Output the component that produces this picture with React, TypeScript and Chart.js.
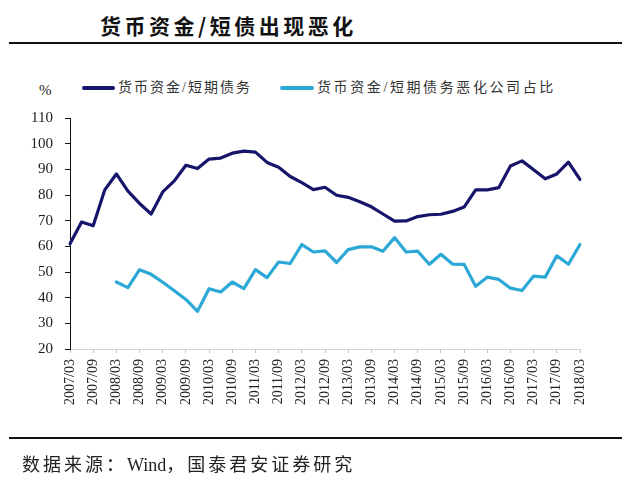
import React, { useEffect, useRef } from "react";
import { Chart, registerables } from "chart.js";

Chart.register(...registerables);

const categories: string[] = [
  "2007/03", "2007/06", "2007/09", "2007/12",
  "2008/03", "2008/06", "2008/09", "2008/12",
  "2009/03", "2009/06", "2009/09", "2009/12",
  "2010/03", "2010/06", "2010/09", "2010/12",
  "2011/03", "2011/06", "2011/09", "2011/12",
  "2012/03", "2012/06", "2012/09", "2012/12",
  "2013/03", "2013/06", "2013/09", "2013/12",
  "2014/03", "2014/06", "2014/09", "2014/12",
  "2015/03", "2015/06", "2015/09", "2015/12",
  "2016/03", "2016/06", "2016/09", "2016/12",
  "2017/03", "2017/06", "2017/09", "2017/12",
  "2018/03",
];

const cashToShortDebt: number[] = [
  61, 69.5, 68, 82,
  88.2, 81.5, 76.7, 72.6,
  81.2, 85.5, 91.6, 90.3,
  94, 94.4, 96.3, 97.1,
  96.7, 92.7, 90.8, 87.2,
  84.8, 82.1, 83, 79.9,
  79.1, 77.4, 75.4, 72.6,
  69.8, 69.9, 71.6, 72.3,
  72.5, 73.6, 75.3, 82,
  82, 82.9, 91.3, 93.3,
  89.8, 86.3, 88.2, 92.8,
  86.1,
];

const worseningShare: (number | null)[] = [
  null, null, null, null,
  46.1, 43.9, 50.9, 49.1,
  46, 42.7, 39.3, 34.7,
  43.5, 42.2, 46.1, 43.5,
  50.9, 47.8, 53.9, 53.3,
  60.7, 57.8, 58.2, 53.7,
  58.7, 59.8, 59.8, 58.1,
  63.4, 57.8, 58.1, 53,
  56.9, 53.1, 53, 44.4,
  48, 47.1, 43.7, 42.8,
  48.4, 48, 56.3, 53,
  60.7,
];

const seriesNames: string[] = ["货币资金/短期债务", "货币资金/短期债务恶化公司占比"];
const seriesColors: string[] = ["#16156b", "#2ba8d6"];

const yMin = 20;
const yMax = 110;
const yStep = 10;

const titleText = "货币资金/短债出现恶化";
const sourceParts: string[] = ["数据来源：", "Wind", "，国泰君安证券研究"];

const MIXED_FONT = "'Liberation Serif', 'Noto Sans CJK SC', serif";

export default function App() {
  const canvasRef = useRef<HTMLCanvasElement | null>(null);

  useEffect(() => {
    document.body.style.margin = "0";
    const canvas = canvasRef.current;
    if (!canvas) return;
    const chart = new Chart(canvas, {
      type: "line",
      data: {
        labels: categories,
        datasets: [
          {
            label: seriesNames[0],
            data: cashToShortDebt,
            borderColor: seriesColors[0],
            backgroundColor: seriesColors[0],
            borderWidth: 3.2,
            pointRadius: 0,
            tension: 0,
            borderJoinStyle: "round",
            borderCapStyle: "round",
          },
          {
            label: seriesNames[1],
            data: worseningShare,
            borderColor: seriesColors[1],
            backgroundColor: seriesColors[1],
            borderWidth: 3.2,
            pointRadius: 0,
            tension: 0,
            spanGaps: false,
            borderJoinStyle: "round",
            borderCapStyle: "round",
          },
        ],
      },
      options: {
        responsive: false,
        animation: false,
        devicePixelRatio: 1,
        layout: { padding: { left: 8, right: 57, top: 118, bottom: 81 } },
        plugins: {
          legend: { display: false },
          tooltip: { enabled: false },
          title: { display: false },
        },
        scales: {
          x: {
            type: "category",
            offset: false,
            afterFit: (s: any) => {
              s.height = 60;
            },
            border: { display: true, color: "#d4d4d4", width: 1 },
            grid: {
              display: true,
              drawOnChartArea: false,
              drawTicks: true,
              tickLength: 4,
              color: "#c4c4c4",
              offset: false,
            },
            ticks: {
              autoSkip: false,
              maxRotation: 90,
              minRotation: 90,
              padding: 6,
              color: "#222",
              font: { family: "'Liberation Serif', serif", size: 14 },
              callback: function (this: any, _v: any, index: number) {
                return index % 2 === 0 ? categories[index] : null;
              },
            },
          },
          y: {
            min: yMin,
            max: yMax,
            afterFit: (s: any) => {
              s.width = 62;
            },
            border: { display: true, color: "#111", width: 1 },
            grid: {
              display: true,
              drawOnChartArea: false,
              drawTicks: true,
              tickLength: 5,
              color: "#111",
            },
            ticks: {
              stepSize: yStep,
              padding: 12,
              color: "#222",
              font: { family: "'Liberation Serif', serif", size: 15 },
            },
          },
        },
      },
    });
    return () => chart.destroy();
  }, []);

  const legendItem = (i: number, left: number, lineW: number) => (
    <div
      key={i}
      style={{
        position: "absolute",
        left,
        top: 78,
        height: 20,
        display: "flex",
        alignItems: "center",
      }}
    >
      <div
        style={{
          width: lineW,
          height: 4,
          background: seriesColors[i],
          borderRadius: 2,
          marginRight: 3,
        }}
      />
      <span
        style={{
          fontFamily: MIXED_FONT,
          fontSize: 14,
          letterSpacing: i === 0 ? "2px" : "2.6px",
          color: "#333",
          whiteSpace: "nowrap",
          lineHeight: "20px",
        }}
      >
        {seriesNames[i]}
      </span>
    </div>
  );

  return (
    <div
      style={{
        position: "absolute",
        left: 0,
        top: 0,
        width: 637,
        height: 490,
        background: "#fff",
        overflow: "hidden",
      }}
    >
      <div
        style={{
          position: "absolute",
          left: 100,
          top: 10,
          fontFamily: "'Noto Sans CJK SC', sans-serif",
          fontWeight: 700,
          fontSize: 21,
          letterSpacing: "3.5px",
          color: "#111",
          whiteSpace: "nowrap",
          lineHeight: "30px",
        }}
      >
        {titleText}
      </div>
      <div
        style={{
          position: "absolute",
          left: 9,
          top: 42,
          width: 613,
          height: 1.5,
          background: "#111",
        }}
      />
      <div
        style={{
          position: "absolute",
          left: 39,
          top: 80,
          fontFamily: "'Liberation Serif', serif",
          fontSize: 15,
          color: "#222",
          lineHeight: "20px",
        }}
      >
        %
      </div>
      {legendItem(0, 82, 33)}
      {legendItem(1, 280, 34)}
      <canvas
        ref={canvasRef}
        width={637}
        height={490}
        style={{ position: "absolute", left: 0, top: 0, width: 637, height: 490 }}
      />
      <div
        style={{
          position: "absolute",
          left: 9,
          top: 437,
          width: 613,
          height: 1.5,
          background: "#111",
        }}
      />
      <div
        style={{
          position: "absolute",
          left: 22,
          top: 452,
          fontFamily: MIXED_FONT,
          fontSize: 18,
          color: "#222",
          whiteSpace: "nowrap",
          lineHeight: "26px",
        }}
      >
        <span style={{ letterSpacing: "3px" }}>{sourceParts[0]}</span>
        <span style={{ letterSpacing: "0px" }}>{sourceParts[1]}</span>
        <span style={{ letterSpacing: "3px" }}>{sourceParts[2]}</span>
      </div>
    </div>
  );
}
